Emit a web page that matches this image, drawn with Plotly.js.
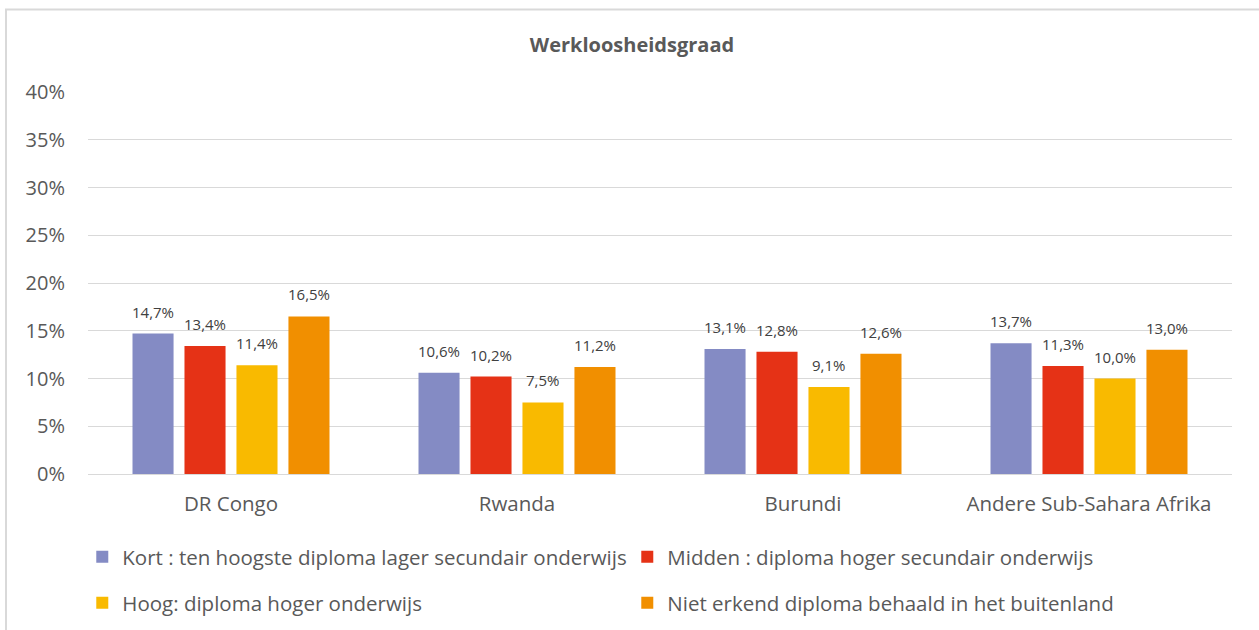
<!DOCTYPE html>
<html>
<head>
<meta charset="utf-8">
<script src="https://cdn.plot.ly/plotly-3.0.1.min.js"></script>
<style>html,body{margin:0;padding:0;background:#fff;}#chart{width:1259px;height:630px;}</style>
</head>
<body>
<div id="chart"></div>
<script>
const categories = ["DR Congo", "Rwanda", "Burundi", "Andere Sub-Sahara Afrika"];
const seriesNames = [
  "Kort : ten hoogste diploma lager secundair onderwijs",
  "Midden : diploma hoger secundair onderwijs",
  "Hoog: diploma hoger onderwijs",
  "Niet erkend diploma behaald in het buitenland"
];
const kort = [14.7, 10.6, 13.1, 13.7];
const midden = [13.4, 10.2, 12.8, 11.3];
const hoog = [11.4, 7.5, 9.1, 10.0];
const nietErkend = [16.5, 11.2, 12.6, 13.0];
const colors = ["#848BC4", "#E53216", "#F9BA00", "#F18F00"];
const yTicks = [0, 5, 10, 15, 20, 25, 30, 35, 40];

const FONT = "Open Sans, Liberation Sans, Arial, sans-serif";
const TXT = "#595959";
const seriesValues = [kort, midden, hoog, nietErkend];
const legendOf = ["legend", "legend", "legend2", "legend2"];

const traces = seriesValues.map((vals, i) => ({
  type: "bar",
  name: seriesNames[i],
  x: categories,
  y: vals,
  marker: {color: colors[i]},
  legend: legendOf[i],
  hoverinfo: "skip"
}));

// data labels placed above each bar through the axes
const plotW = 1259 - 88 - 27;
const catW = plotW / categories.length;
const bargap = 0.273;
const slot = catW * (1 - bargap) / seriesValues.length;
const annotations = [];
seriesValues.forEach((vals, i) => {
  vals.forEach((v, j) => {
    annotations.push({
      x: categories[j], y: v, xref: "x", yref: "y",
      text: v.toFixed(1).replace(".", ",") + "%",
      showarrow: false,
      xshift: (i - (seriesValues.length - 1) / 2) * slot,
      yshift: 22,
      font: {family: FONT, size: 15, color: "#404040"}
    });
  });
});

const legendCommon = {
  orientation: "h",
  xanchor: "left",
  yanchor: "middle",
  entrywidth: 500,
  entrywidthmode: "pixels",
  font: {family: FONT, size: 20.5, color: TXT},
  itemwidth: 30,
  traceorder: "normal",
  bgcolor: "rgba(0,0,0,0)"
};

const layout = {
  width: 1259,
  height: 630,
  separators: ", ",
  paper_bgcolor: "#ffffff",
  plot_bgcolor: "#ffffff",
  margin: {l: 88, r: 27, t: 92, b: 156, autoexpand: false},
  font: {family: FONT, color: TXT},
  title: {
    text: "<b>Werkloosheidsgraad</b>",
    font: {family: FONT, size: 20, color: TXT},
    x: 0.502, xanchor: "center",
    y: 0.928, yanchor: "middle"
  },
  barmode: "group",
  bargap: bargap,
  bargroupgap: 0.21,
  showlegend: true,
  legend: Object.assign({}, legendCommon, {x: -0.005, y: (474 - 557) / 382}),
  legend2: Object.assign({}, legendCommon, {x: -0.005, y: (474 - 603) / 382}),
  xaxis: {
    type: "category",
    tickfont: {family: FONT, size: 20.5, color: TXT},
    showline: true, linecolor: "#D9D9D9", linewidth: 1,
    ticks: "", showgrid: false,
    ticklabelstandoff: 11
  },
  yaxis: {
    range: [0, 40],
    tickvals: yTicks,
    ticktext: yTicks.map(v => v + "%"),
    tickfont: {family: FONT, size: 20, color: TXT},
    showgrid: true, gridcolor: "#D9D9D9", gridwidth: 1,
    zeroline: false, showline: false, ticks: "",
    ticklabelstandoff: 22
  },
  annotations: annotations,
  shapes: [{
    type: "rect", xref: "paper", yref: "paper",
    x0: -82 / plotW, x1: 1400 / plotW,
    y0: -200 / 382, y1: (474 - 9.5) / 382,
    line: {color: "#D9D9D9", width: 2},
    fillcolor: "rgba(0,0,0,0)", layer: "below"
  }]
};

Plotly.newPlot("chart", traces, layout, {staticPlot: true, displayModeBar: false});
</script>
</body>
</html>
